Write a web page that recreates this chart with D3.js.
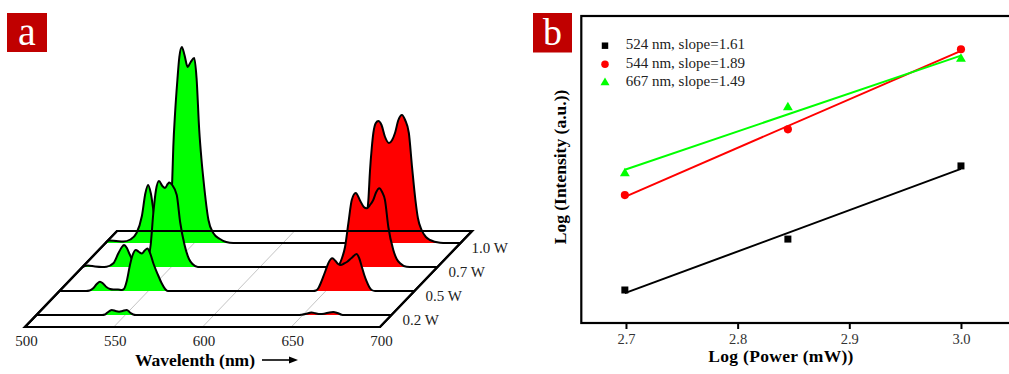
<!DOCTYPE html>
<html><head><meta charset="utf-8">
<script src="https://cdn.jsdelivr.net/npm/d3@7"></script>
<style>
body{margin:0;background:#fff}
svg{display:block}
text{font-family:"Liberation Serif","Times New Roman",serif}
</style>
</head><body>
<svg id="c" width="1009" height="374"></svg>
<script>
// ---------- Panel a data ----------
const powers = ["0.2 W", "0.5 W", "0.7 W", "1.0 W"];
const wavelengthTicks = [500, 550, 600, 650, 700];
// [wavelength (nm), intensity (a.u.)]
const spec02W = [[500,0],[537,0],[538.6,0.5],[540,2.5],[542.4,5],[544.5,4],[546.5,3.3],[548.5,4],[550.8,5],[553,2],[554.5,0.5],[556,0],[600,0],
  [648,0],[649.4,0.3],[651.5,1],[653.5,2],[655,2.6],[657,1.8],[659.7,1],[662,1.3],[665,2.6],[667.2,3],[669.5,2],[671.9,0.3],[673,0],[700,0]];
const spec05W = [[500,0],[515,0],[517,0.5],[519,2.7],[521,7],[522.8,9.3],[524.5,7.5],[526.6,3.7],[528.5,2],[530.3,1.5],[533,1.5],[535,1],[536.3,2],[537.9,10],[539.7,26],[541.2,36],[543,41],[544.8,39],[546.4,37.5],[548,40.5],[549.5,42.5],[551,38],[553,27],[555.5,16],[557.5,8],[559.5,2],[561,0],[600,0],
  [643,0],[644.5,0.5],[645.8,2.7],[647.2,8],[648.6,14.3],[650,21],[651.4,27.7],[653.7,32.7],[655.5,30],[657,27],[658.4,26],[660.3,27.5],[662.1,29.3],[664.5,33],[667.4,37],[668.8,33],[670.3,24.3],[671.7,16],[673.1,9.3],[674.5,4],[675.9,1],[677.8,0],[700,0]];
const spec07W = [[500,0],[503,1.5],[507,0.5],[511,0],[513.6,0.3],[517.4,3.7],[520.2,13.7],[522,19.5],[523.4,22],[525,19],[526.5,13],[528.5,6],[531,2],[534,0.5],[536,3],[537.3,10],[538.4,22],[539.9,54],[541.4,77],[543.1,86],[545,81],[546.5,79],[548,83],[548.9,84.5],[550.5,82],[553.1,72],[555,45],[557.5,22],[560,8],[562,3],[565,0],[600,0],
  [643,0],[644.5,2],[646,8],[647.9,20],[649.8,44],[651.7,67],[653.9,74],[656.5,66],[658.5,60],[660.1,58.7],[662,62],[663.8,67],[665.5,75],[667.2,78.7],[668.8,75],[670.4,67],[672.3,40],[675.1,17],[677,8],[678.9,3.7],[682.6,0.3],[686,0],[700,0]];
const spec10W = [[500,0],[502,2.5],[506,2],[510,1.5],[514,3.5],[517.5,10],[520.5,27],[522.5,50],[524,58],[525.5,50],[527.5,27],[530,11],[533,5],[535,8],[536.5,30],[537.6,63],[538.2,96],[539.2,130],[540.5,163],[541.6,186],[543,196],[544.5,188],[546.3,176],[548,181],[550,185],[551.3,165],[552.8,113],[554,85],[555.2,63],[558,23],[560.7,10],[564.5,4],[568,1],[572,0],[600,0],
  [642,0],[644,3],[645.5,9],[646.8,22],[648.1,43],[649,72],[650,95],[650.9,110],[652.3,120],[653.7,122],[655.5,118],[657.5,106],[659.7,100],[661.5,103],[663.1,110],[665,123],[667,128],[668.8,123],[670.9,110],[672.7,76],[674.6,43],[676,25],[678.1,13],[680.5,6],[682.8,3],[688.5,0.3],[692,0],[700,0]];
const spectra = {"0.2 W": spec02W, "0.5 W": spec05W, "0.7 W": spec07W, "1.0 W": spec10W};

// ---------- Panel b data ----------
const logPower = [2.699, 2.845, 3.0];
const powerTicks = [2.7, 2.8, 2.9, 3.0];
const logI524 = [2.929, 3.128, 3.414];
const logI544 = [3.300, 3.557, 3.870];
const logI667 = [3.385, 3.643, 3.832];
const legendLabels = ["524 nm, slope=1.61", "544 nm, slope=1.89", "667 nm, slope=1.49"];

const svg = d3.select("#c");
const GREEN = "#00ff00", RED = "#ff0000", PANEL = "#c00000";

// ================= Panel a =================
const gA = svg.append("g");
const xW = d3.scaleLinear().domain([500, 700]).range([25, 380]);
const depth = d3.scalePoint().domain(powers).range([0, 96]).padding(0.5);
const frontY = 327, backD = 96, shear = 92 / 96;
const yI = d3.scaleLinear().domain([0, 200]).range([0, 200]);

// floor
const fl = [[xW(500), frontY], [xW(700), frontY], [xW(700) + backD * shear, frontY - backD], [xW(500) + backD * shear, frontY - backD]];
gA.append("path").attr("d", "M" + fl.join("L") + "Z")
  .attr("fill", "#fff").attr("stroke", "#000").attr("stroke-width", 2.2).attr("stroke-linejoin", "miter");
// grid lines
gA.selectAll("line.grid").data(wavelengthTicks.slice(1, -1)).join("line")
  .attr("x1", d => xW(d)).attr("y1", frontY)
  .attr("x2", d => xW(d) + backD * shear).attr("y2", frontY - backD)
  .attr("stroke", "#c4c4c4").attr("stroke-width", 1);

// slices, back to front
powers.slice().reverse().forEach(p => {
  const d = depth(p), base = frontY - d, sh = d * shear;
  const data = spectra[p];
  const px = q => xW(q[0]) + sh, py = q => base - yI(q[1]);
  const area = d3.area().x(px).y0(base).y1(py).curve(d3.curveMonotoneX);
  const line = d3.line().x(px).y(py).curve(d3.curveMonotoneX);
  gA.append("path").attr("d", area(data.filter(q => q[0] <= 600))).attr("fill", GREEN);
  gA.append("path").attr("d", area(data.filter(q => q[0] >= 600))).attr("fill", RED);
  gA.append("path").attr("d", line(data)).attr("fill", "none").attr("stroke", "#000")
    .attr("stroke-width", 2).attr("stroke-linejoin", "round");
  gA.append("text").attr("x", xW(700) + sh + 11).attr("y", base + 7)
    .attr("dominant-baseline", "middle").attr("font-size", 15).attr("fill", "#222").text(p);
});
// redraw front edge & sides on top
gA.append("path").attr("d", "M" + fl.join("L") + "Z")
  .attr("fill", "none").attr("stroke", "#000").attr("stroke-width", 2.2);

// wavelength tick labels
gA.selectAll("text.tk").data(wavelengthTicks).join("text")
  .attr("x", d => xW(d) + 1.5).attr("y", 343).attr("text-anchor", "middle")
  .attr("dominant-baseline", "middle").attr("font-size", 15).attr("fill", "#222").text(d => d);
gA.append("text").attr("x", 195).attr("y", 362).attr("text-anchor", "middle")
  .attr("dominant-baseline", "middle").attr("font-size", 17.5).attr("font-weight", "bold").text("Wavelenth (nm)");
gA.append("line").attr("x1", 262).attr("y1", 360).attr("x2", 290).attr("y2", 360)
  .attr("stroke", "#000").attr("stroke-width", 1.6);
gA.append("path").attr("d", "M289,356.5L298,360L289,363.5Z").attr("fill", "#000");

// panel label a
gA.append("rect").attr("x", 7).attr("y", 13).attr("width", 40).attr("height", 39).attr("fill", PANEL);
gA.append("text").attr("x", 27).attr("y", 45).attr("text-anchor", "middle")
  .attr("font-size", 40).attr("fill", "#fff").text("a");

// ================= Panel b =================
const gB = svg.append("g");
const xB = d3.scaleLinear().domain([2.66, 3.05]).range([581.3, 1016.8]);
const yB = d3.scaleLinear().domain([2.8, 4.0]).range([323, 16]);

gB.append("rect").attr("x", xB(2.66)).attr("y", yB(4.0))
  .attr("width", xB(3.05) - xB(2.66)).attr("height", yB(2.8) - yB(4.0))
  .attr("fill", "none").attr("stroke", "#000").attr("stroke-width", 2.2);

const ax = gB.append("g").attr("transform", `translate(0,${yB(2.8)})`)
  .call(d3.axisBottom(xB).tickValues(powerTicks).tickSize(6).tickPadding(5).tickFormat(d3.format(".1f")));
ax.select(".domain").remove();
ax.selectAll("line").attr("stroke", "#000").attr("stroke-width", 2);
ax.selectAll("text").attr("font-size", 14.5).attr("fill", "#333")
  .attr("font-family", "'Liberation Serif','Times New Roman',serif");

gB.append("text").attr("x", 781).attr("y", 358).attr("text-anchor", "middle")
  .attr("dominant-baseline", "middle").attr("font-size", 17.5).attr("font-weight", "bold")
  .attr("letter-spacing", 0.3).text("Log (Power (mW))");
gB.append("text").attr("transform", "translate(562,167) rotate(-90)").attr("text-anchor", "middle")
  .attr("dominant-baseline", "middle").attr("font-size", 17.5).attr("font-weight", "bold")
  .text("Log (Intensity (a.u.))");

const series = [
  {vals: logI524, color: "#000", sym: d3.symbolSquare, size: 49},
  {vals: logI544, color: RED, sym: d3.symbolCircle, size: 52},
  {vals: logI667, color: GREEN, sym: d3.symbolTriangle, size: 42}
];
function fit(xs, ys) {
  const mx = d3.mean(xs), my = d3.mean(ys);
  let sxy = 0, sxx = 0;
  xs.forEach((x, i) => { sxy += (x - mx) * (ys[i] - my); sxx += (x - mx) * (x - mx); });
  const b = sxy / sxx;
  return x => my + b * (x - mx);
}
series.forEach(s => {
  const f = fit(logPower, s.vals);
  const ends = [logPower[0], logPower[logPower.length - 1]];
  gB.append("path").attr("d", d3.line().x(d => xB(d)).y(d => yB(f(d)))(ends))
    .attr("stroke", s.color).attr("stroke-width", 2).attr("fill", "none");
});
series.forEach(s => {
  gB.selectAll(null).data(logPower).join("path")
    .attr("transform", (d, i) => `translate(${xB(d)},${yB(s.vals[i])})`)
    .attr("d", d3.symbol(s.sym, s.size)).attr("fill", s.color);
});
// legend
const legY = d3.scalePoint().domain(legendLabels).range([45.7, 82.7]);
series.forEach((s, i) => {
  const lab = legendLabels[i];
  gB.append("path").attr("transform", `translate(605,${legY(lab)})`)
    .attr("d", d3.symbol(s.sym, s.size * 0.85)).attr("fill", s.color);
  gB.append("text").attr("x", 625.7).attr("y", legY(lab)).attr("dominant-baseline", "middle")
    .attr("font-size", 15).attr("fill", "#222").text(lab);
});

// panel label b
gB.append("rect").attr("x", 533).attr("y", 13).attr("width", 39).attr("height", 39.5).attr("fill", PANEL);
gB.append("text").attr("x", 552.5).attr("y", 45).attr("text-anchor", "middle")
  .attr("font-size", 38).attr("fill", "#fff").text("b");
</script>
</body></html>
